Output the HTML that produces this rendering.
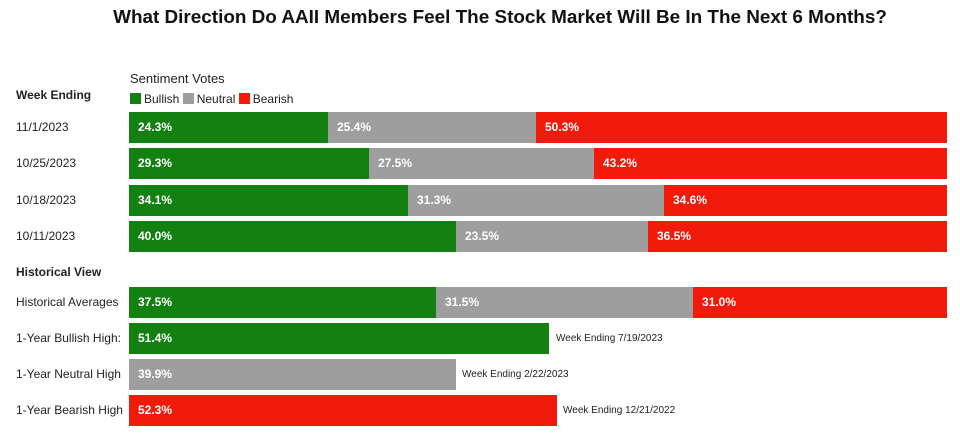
<!DOCTYPE html>
<html><head><meta charset="utf-8"><style>
body{margin:0;width:960px;height:435px;background:#fff;font-family:"Liberation Sans",sans-serif;position:relative;overflow:hidden;color:#222}
.t{position:absolute;top:7px;left:20px;width:960px;text-align:center;font-size:18.9px;font-weight:bold;color:#111;white-space:nowrap}
.l{position:absolute;left:16px;font-size:12px}
.b{position:absolute;left:129px;height:31px;display:flex}
.b div{height:100%;color:#fff;font-weight:bold;font-size:12px;line-height:31px;padding-left:9px;box-sizing:border-box}
.g{background:#138012}.n{background:#9e9e9e}.r{background:#f21a0a}
.a{position:absolute;font-size:10px}
.sw{display:inline-block;width:11px;height:11px;vertical-align:-1px;margin-right:3px}
</style></head><body>
<div class="t">What Direction Do AAII Members Feel The Stock Market Will Be In The Next 6 Months?</div>
<div class="l" style="left:130px;top:71px;font-size:13px">Sentiment Votes</div>
<div class="l" style="top:88px;font-weight:bold">Week Ending</div>
<div class="l" style="left:130px;top:92px"><span class="sw g"></span>Bullish <span class="sw n"></span>Neutral <span class="sw r"></span>Bearish</div>

<div class="l" style="top:120px">11/1/2023</div>
<div class="b" style="top:112px"><div class="g" style="width:199px">24.3%</div><div class="n" style="width:208px">25.4%</div><div class="r" style="width:411px">50.3%</div></div>
<div class="l" style="top:156px">10/25/2023</div>
<div class="b" style="top:148px"><div class="g" style="width:240px">29.3%</div><div class="n" style="width:225px">27.5%</div><div class="r" style="width:353px">43.2%</div></div>
<div class="l" style="top:193px">10/18/2023</div>
<div class="b" style="top:185px"><div class="g" style="width:279px">34.1%</div><div class="n" style="width:256px">31.3%</div><div class="r" style="width:283px">34.6%</div></div>
<div class="l" style="top:229px">10/11/2023</div>
<div class="b" style="top:221px"><div class="g" style="width:327px">40.0%</div><div class="n" style="width:192px">23.5%</div><div class="r" style="width:299px">36.5%</div></div>

<div class="l" style="top:265px;font-weight:bold">Historical View</div>
<div class="l" style="top:295px">Historical Averages</div>
<div class="b" style="top:287px"><div class="g" style="width:307px">37.5%</div><div class="n" style="width:257px">31.5%</div><div class="r" style="width:254px">31.0%</div></div>
<div class="l" style="top:331px">1-Year Bullish High:</div>
<div class="b" style="top:323px"><div class="g" style="width:420px">51.4%</div></div>
<div class="a" style="left:556px;top:333px">Week Ending 7/19/2023</div>
<div class="l" style="top:367px">1-Year Neutral High</div>
<div class="b" style="top:359px"><div class="n" style="width:327px">39.9%</div></div>
<div class="a" style="left:462px;top:369px">Week Ending 2/22/2023</div>
<div class="l" style="top:403px">1-Year Bearish High</div>
<div class="b" style="top:395px"><div class="r" style="width:428px">52.3%</div></div>
<div class="a" style="left:563px;top:405px">Week Ending 12/21/2022</div>
</body></html>
